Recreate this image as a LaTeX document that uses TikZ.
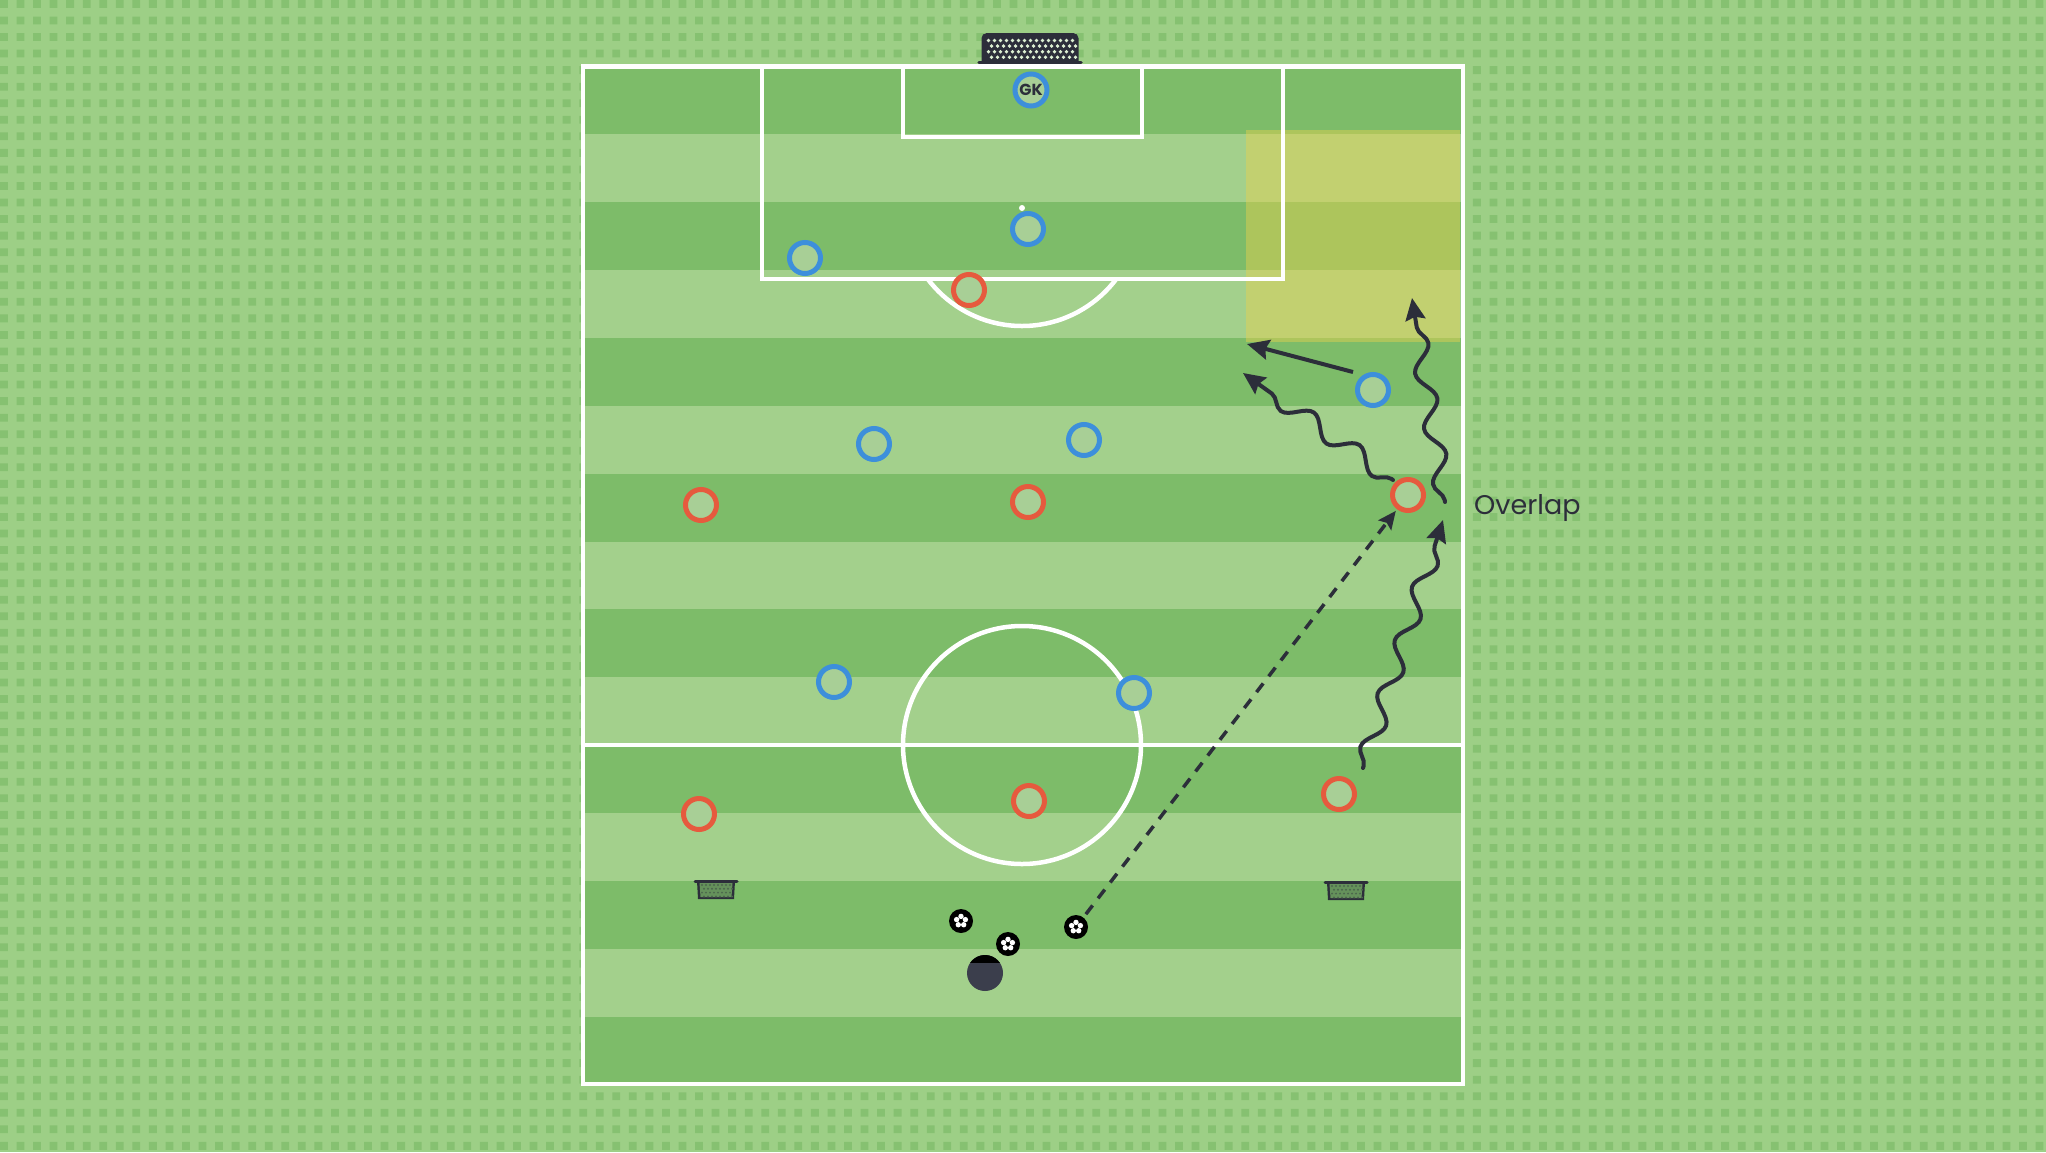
\documentclass[tikz,border=0pt]{standalone}
\usepackage{fontspec}
\newfontfamily\pop{Poppins}
\usetikzlibrary{arrows.meta,decorations.pathmorphing}
\definecolor{bgc}{HTML}{9DCF86}
\definecolor{bgsq}{HTML}{86C171}
\definecolor{darkst}{HTML}{7DBC69}
\definecolor{lightst}{HTML}{A3D08C}
\definecolor{pblue}{HTML}{3D8FDB}
\definecolor{pred}{HTML}{E65A3E}
\definecolor{ink}{HTML}{2C2E3A}
\definecolor{pfill}{HTML}{A8CF96}
\definecolor{zone}{HTML}{E9D24E}
\definecolor{netlight}{HTML}{DCEFD2}
\definecolor{coachc}{HTML}{3B3E4C}
\tikzset{
  player/.style={circle, minimum size=31pt, inner sep=0pt, line width=5pt, fill=pfill},
  bluep/.style={player, draw=pblue},
  redp/.style={player, draw=pred},
  pline/.style={white, line width=4.5pt},
  runarrow/.style={ink, line width=4pt, line cap=round,
    -{Stealth[length=22pt,width=20pt,inset=3pt]},
    decorate, decoration={snake, amplitude=9pt, segment length=56pt, pre length=2pt, post length=16pt}},
  passarrow/.style={ink, line width=3.5pt, dash pattern=on 11pt off 9pt,
    -{Stealth[length=18pt,width=16pt,inset=3pt]}, shorten <=4pt, shorten >=2pt},
  movearrow/.style={ink, line width=4pt, -{Stealth[length=22pt,width=20pt,inset=3pt]}},
  ballnode/.style={circle, fill=black, minimum size=24pt, inner sep=0pt,
    path picture={
      \foreach \a in {90,162,234,306,18}{\fill[white] (path picture bounding box.center) ++(\a:4.6pt) circle (2.7pt);}
      \fill[black] (path picture bounding box.center) circle (1.6pt);
    }},
  coachnode/.style={circle, fill=coachc, minimum size=36pt, inner sep=0pt,
    path picture={\fill[black] (path picture bounding box.north west) rectangle ([yshift=-8pt]path picture bounding box.north east);}},
  smallgoal/.pic={
    \fill[ink] (-19,-10) -- (-18,8) -- (18,8) -- (19,-10) -- cycle;
    \fill[ink!30!darkst] (-16.5,-8) -- (-15.5,6) -- (15.5,6) -- (16.5,-8) -- cycle;
    \foreach \i in {0,...,7}{\foreach \j in {0,...,3}{
      \fill[ink!60!darkst] ({-14+4*\i+2*mod(\j,2)},{-6+3.8*\j}) circle (1.1pt);}}
    \draw[ink, line width=3pt, line cap=round] (-21,-10) -- (21,-10);
  }
}
\begin{document}
\begin{tikzpicture}[x=1pt,y=-1pt]
\useasboundingbox (0,0) rectangle (2046,1152);
% background
\fill[bgc] (0,0) rectangle (2046,1152);
\foreach \j in {0,...,69}{
  \fill[bgsq] \foreach \i in {0,...,123}{ ({\i*16.55},{\j*16.55}) rectangle ++(7.8,7.8) };
}
% pitch stripes
\fill[lightst] (583,66.5) rectangle (1463,1084);
\foreach \k in {0,2,...,14}{
  \fill[darkst] (583,{66.5+\k*67.8667}) rectangle (1463,{66.5+(\k+1)*67.8667});
}
% highlighted zone
\fill[zone, opacity=0.45] (1246,130) rectangle (1460,342);
% lines
\draw[pline] (583,66.5) rectangle (1463,1084);
\draw[pline] (583,745) -- (1463,745);
\draw[pline] (1022,745) circle[radius=119pt];
\draw[pline] (762,66.5) -- (762,279) -- (1283,279) -- (1283,66.5);
\draw[pline] (903,66.5) -- (903,137) -- (1142,137) -- (1142,66.5);
\begin{scope}
  \clip (583,281.3) rectangle (1463,420);
  \draw[pline] (1022,208) circle[radius=118pt];
\end{scope}
\fill[white] (1022,208) circle[radius=3pt];
% top goal
\draw[ink, line width=3pt, fill=ink, rounded corners=4pt] (983,62) -- (983,34.5) -- (1077,34.5) -- (1077,62);
\foreach \i in {0,...,14}{\foreach \j in {0,...,3}{
  \fill[netlight] ({988.5+6*\i+3*mod(\j,2)},{40.5+5.6*\j}) circle (1.9pt);}}
\draw[ink, line width=3.5pt, line cap=round] (979,62.5) -- (1081,62.5);
% small goals
\pic at (716,891) {smallgoal};
\pic at (1346,892) {smallgoal};
% players blue
\node[bluep, minimum size=32pt] (gk) at (1031,90) {\pop\bfseries\fontsize{16pt}{16pt}\selectfont\color{ink}GK};
\node[bluep] (b1) at (1028,229) {};
\node[bluep] (b2) at (805,258) {};
\node[bluep] (b3) at (1373,390) {};
\node[bluep] (b4) at (874,444) {};
\node[bluep] (b5) at (1084,440) {};
\node[bluep] (b6) at (834,682) {};
\node[bluep] (b7) at (1134,693) {};
% players red
\node[redp] (r1) at (969,290) {};
\node[redp] (r2) at (701,505) {};
\node[redp] (r3) at (1028,502) {};
\node[redp] (r4) at (1408,495) {};
\node[redp] (r5) at (699,814) {};
\node[redp] (r6) at (1029,801) {};
\node[redp] (r7) at (1339,794) {};
% balls and coach
\node[ballnode] (ball1) at (961,921) {};
\node[ballnode] (ball2) at (1008,944) {};
\node[ballnode] (ball3) at (1076,927) {};
\node[coachnode] (coach) at (985,973) {};
% movement coordinates
\coordinate (m1s) at (1353,372);
\coordinate (m1e) at (1247,344);
\coordinate (w1s) at (1393,480);
\coordinate (w1e) at (1243,373);
\coordinate (w2s) at (1445,502);
\coordinate (w2e) at (1412,298);
\coordinate (w3s) at (1363,768);
\coordinate (w3e) at (1443,520);
% arrows
\draw[movearrow] (m1s) -- (m1e);
\draw[runarrow] (w1s) -- (w1e);
\draw[runarrow] (w2s) -- (w2e);
\draw[runarrow] (w3s) -- (w3e);
\draw[passarrow] (ball3) -- (r4);
% label
\node[anchor=west, text=ink, font=\pop\fontsize{27pt}{30pt}\selectfont, inner sep=0pt] (lbl) at (1474,508) {Overlap};
\end{tikzpicture}
\end{document}
